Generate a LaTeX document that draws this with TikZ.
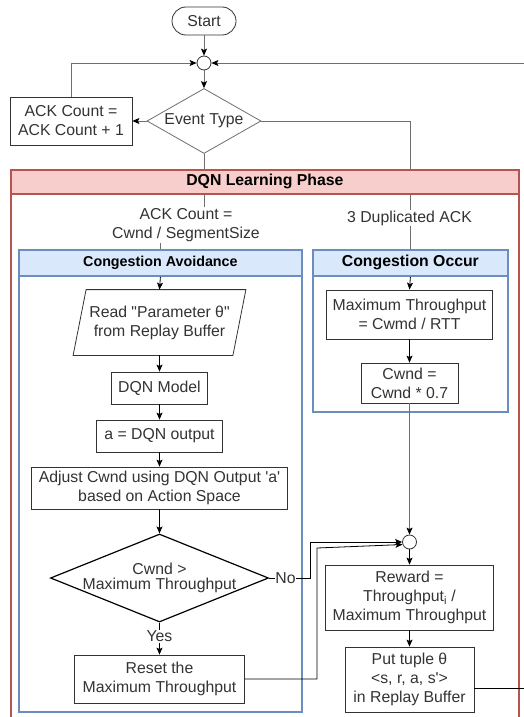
\documentclass[tikz,border=0pt]{standalone}
\usepackage{fontspec}
\setmainfont{Liberation Sans}[Ligatures=TeXOff]
\usetikzlibrary{shapes.geometric,arrows.meta,calc}
\definecolor{redfill}{HTML}{F8CECC}
\definecolor{redline}{HTML}{B85450}
\definecolor{bluefill}{HTML}{DAE8FC}
\definecolor{blueline}{HTML}{6C8EBF}
\definecolor{ink}{HTML}{333333}
\definecolor{wire}{HTML}{6E6E6E}
\newcommand\myfs{\fontsize{15.8}{19}\selectfont}
\newcommand\myfsd{\fontsize{15.8}{15}\selectfont}
\newcommand\myfsh{\fontsize{14.3}{17}\selectfont}
\begin{document}
\begin{tikzpicture}[x=1pt,y=-1pt,
  >={Stealth[length=7pt,width=6pt,inset=1.5pt,color=black]},
  box/.style={draw=ink, line width=0.8pt, fill=white, text=ink, align=center, inner sep=0pt, font=\myfs},
  junc/.style={circle, draw=ink, line width=0.8pt, fill=white, minimum size=14pt, inner sep=0pt},
  dia/.style={diamond, fill=white, inner sep=0pt},
  dlabel/.style={text=ink, align=center, font=\myfs, inner sep=0pt},
  lbl/.style={fill=white, text=ink, align=center, inner sep=1pt, font=\myfs},
  wireg/.style={draw=wire, line width=0.8pt},
  wireb/.style={draw=black, line width=0.8pt},
  redbody/.style={draw=redline, line width=1.8pt, inner sep=0pt},
  redhead/.style={draw=redline, line width=1.8pt, fill=redfill, inner sep=0pt, font=\bfseries\myfs, text=black},
  bluebody/.style={draw=blueline, line width=1.8pt, inner sep=0pt},
  bluehead/.style={draw=blueline, line width=1.8pt, fill=bluefill, inner sep=0pt, text=black},
]
\useasboundingbox (0,0) rectangle (524,717);

% top part
\node[box, rounded corners=14pt, minimum width=64pt, minimum height=28pt] (start) at (204,21) {Start};
\node[junc] (j1) at (204,63) {};
\node[dia, draw=wire, line width=0.8pt, minimum width=114pt, minimum height=65pt,
      label={[dlabel]center:{Event Type}}] (evt) at (204,121) {};
\node[box, minimum width=122pt, minimum height=48pt] (ack) at (71,121) {ACK Count =\\ACK Count + 1};
\coordinate (tEdge) at (524,63);

\draw[wireg,->] (start.south) -- (j1.north);
\draw[wireg,->] (j1.south) -- (evt.north);
\draw[wireg,->] (evt.west) -- (ack.east);
\draw[wireg,->] (ack.north) |- (j1.west);
\draw[wireg,->] (tEdge) -- (j1.east);

% containers (bodies)
\node[redbody, anchor=north west, minimum width=508pt, minimum height=570pt] (dqn) at (10,169) {};
\node[bluebody, anchor=north west, minimum width=283pt, minimum height=462pt] (ca) at (18,249) {};
\node[bluebody, anchor=north west, minimum width=195pt, minimum height=162pt] (co) at (312,249) {};

% connectors from Event Type, behind headers
\draw[wireg] (evt.south) -- ++(0,72) -| (ca.north);
\node[lbl] (lA) at (186,225) {ACK Count =\\Cwnd / SegmentSize};
\draw[wireg] (evt.east) -| (co.north);
\node[lbl] (lB) at (409.5,218) {3 Duplicated ACK};

% headers
\node[redhead, anchor=north west, minimum width=508pt, minimum height=24pt] (dqnh) at (10,169) {DQN Learning Phase};
\node[bluehead, anchor=north west, minimum width=283pt, minimum height=26pt, font=\bfseries\myfsh] (cah) at (18,249) {Congestion Avoidance};
\node[bluehead, anchor=north west, minimum width=195pt, minimum height=26pt, font=\bfseries\myfs] (coh) at (312,249) {Congestion Occur};

% Congestion Avoidance
\node[box, draw=none, minimum width=159pt, minimum height=65pt] (para) at (159.5,322.5) {Read "Parameter θ"\\from Replay Buffer};
\draw[draw=ink, line width=0.8pt] ([xshift=6.5pt]para.north west) -- ([xshift=6.5pt]para.north east)
  -- ([xshift=-6.5pt]para.south east) -- ([xshift=-6.5pt]para.south west) -- cycle;
\node[box, minimum width=96pt, minimum height=32pt] (dqnm) at (159.5,388) {DQN Model};
\node[box, minimum width=126pt, minimum height=32pt] (aout) at (159.5,436) {a = DQN output};
\node[box, minimum width=256pt, minimum height=42pt] (adj) at (159.5,488) {Adjust Cwnd using DQN Output 'a'\\based on Action Space};
\node[dia, draw=black, line width=1.2pt, minimum width=218pt, minimum height=88pt,
      label={[dlabel, font=\myfsd]center:{Cwnd >\\Maximum Throughput}}] (cmp) at (159.5,578) {};
\node[box, minimum width=170pt, minimum height=48pt] (reset) at (159.5,679) {Reset the\\Maximum Throughput};

\draw[wireb,->] (cah.south) -- (para.north);
\draw[wireb,->] (para.south) -- (dqnm.north);
\draw[wireb,->] (dqnm.south) -- (aout.north);
\draw[wireb,->] (aout.south) -- (adj.north);
\draw[wireb,->] (adj.south) -- (cmp.north);
\draw[wireb,->] (cmp.south) -- node[lbl, pos=0.42] {Yes} (reset.north);

% Congestion Occur
\node[box, minimum width=166pt, minimum height=49pt] (maxt) at (409.5,314.5) {Maximum Throughput\\= Cwmd / RTT};
\node[box, minimum width=97pt, minimum height=40pt] (cw) at (409.5,383) {Cwnd =\\Cwnd * 0.7};
\draw[wireb,->] (coh.south) -- (maxt.north);
\draw[wireb,->] (maxt.south) -- (cw.north);

% merge and reward
\node[junc] (j2) at (409.5,542) {};
\node[box, minimum width=168pt, minimum height=65pt] (rew) at (409.5,597.5) {Reward =\\Throughput\textsubscript{i} /\\Maximum Throughput};
\node[box, minimum width=129pt, minimum height=65pt] (put) at (409.5,679.5) {Put tuple θ\\<s, r, a, s'>\\in Replay Buffer};
\coordinate (rEdge) at (524,688);

\draw[wireg,->] (cw.south) -- (j2.north);
\draw[wireb,->] (cmp.east) -- node[lbl, pos=0.4, inner sep=0.5pt] {No} ++(41,0) |- (j2.west);
\draw[wireb,->] (reset.east) -- ++(72,0) -- ++(0,-131) -- (j2.200);
\draw[wireb,->] (j2.south) -- (rew.north);
\draw[wireb,->] (rew.south) -- (put.north);
\draw[wireb] ([yshift=-8.5pt]put.east) -- (rEdge);
\end{tikzpicture}
\end{document}
